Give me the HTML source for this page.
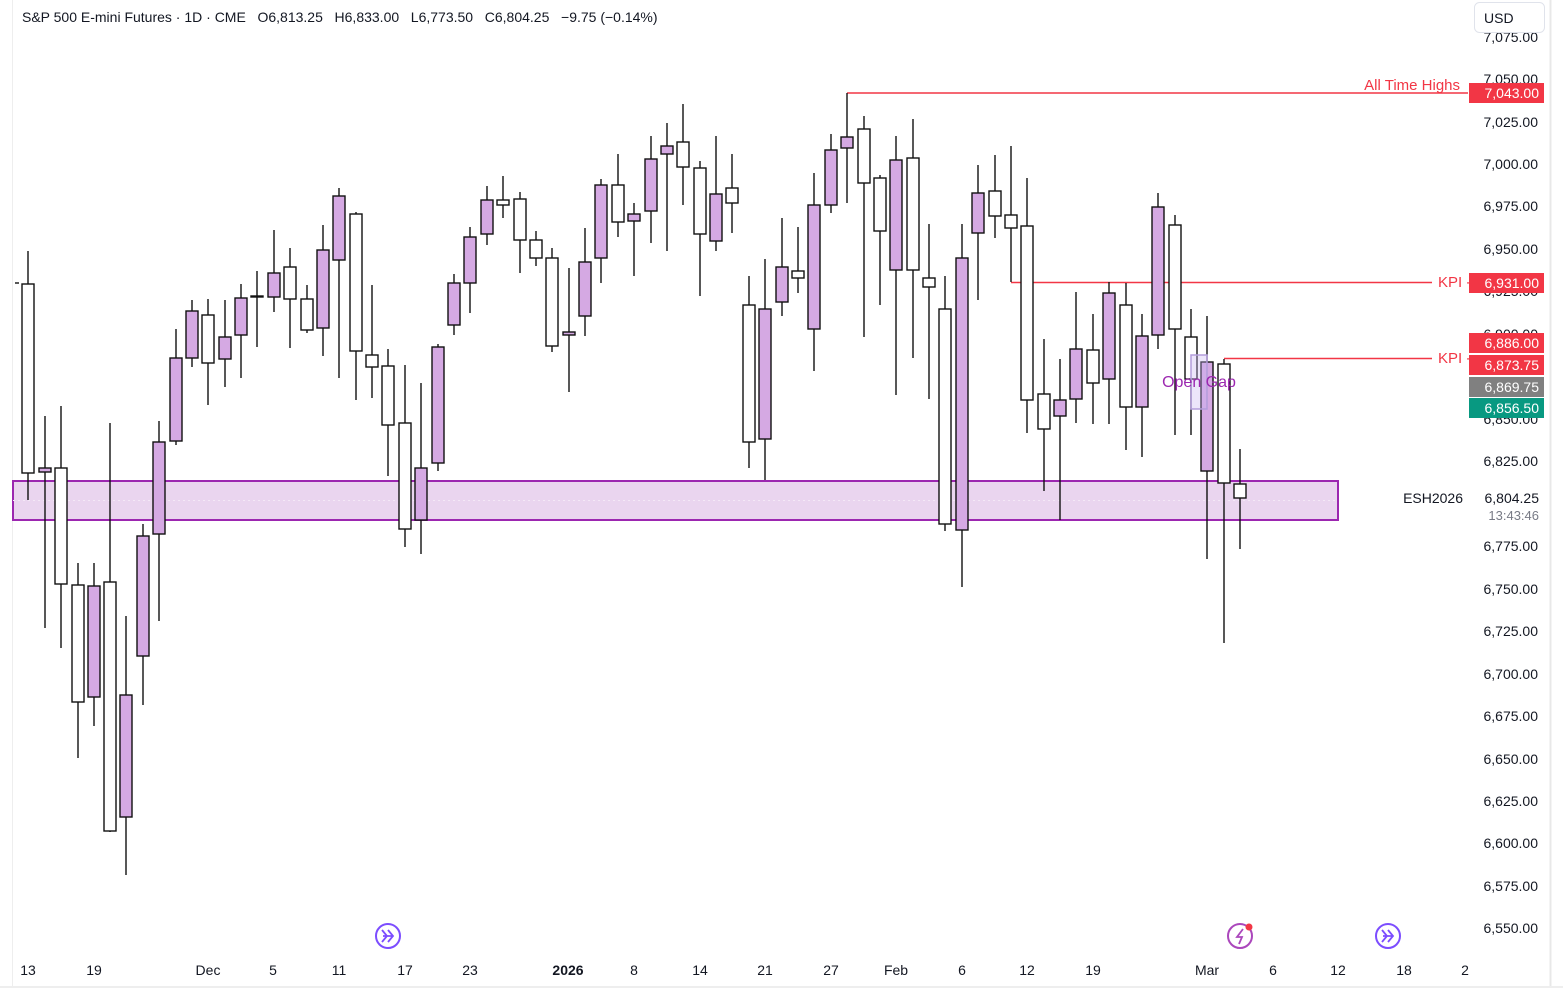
<!DOCTYPE html>
<html><head><meta charset="utf-8"><style>
body{margin:0;background:#fff;width:1563px;height:988px;overflow:hidden;font-family:"Liberation Sans",sans-serif}
svg{position:absolute;left:0;top:0}
</style></head><body>
<svg width="1563" height="988" viewBox="0 0 1563 988" xmlns="http://www.w3.org/2000/svg" font-family="Liberation Sans, sans-serif">
<rect x="0" y="0" width="1563" height="988" fill="#fff"/>
<line x1="12.5" y1="0" x2="12.5" y2="988" stroke="#eee"/>
<line x1="1550.5" y1="0" x2="1550.5" y2="988" stroke="#e8e8e8" stroke-width="2"/>
<line x1="0" y1="987" x2="1563" y2="987" stroke="#eee" stroke-width="2"/>
<rect x="13" y="481" width="1325" height="39" fill="#ead5ef" stroke="#9c27b0" stroke-width="2"/>
<line x1="13" y1="500.5" x2="1338" y2="500.5" stroke="#f4e8f6" stroke-dasharray="2,3"/>
<line x1="847" y1="93" x2="1468" y2="93" stroke="#f23645" stroke-width="1.5"/>
<line x1="1011" y1="282.5" x2="1432" y2="282.5" stroke="#f23645" stroke-width="1.5"/>
<line x1="1224" y1="358.5" x2="1432" y2="358.5" stroke="#f23645" stroke-width="1.5"/>
<text x="1460" y="90" text-anchor="end" font-size="15" fill="#f23645">All Time Highs</text>
<text x="1438" y="287" font-size="15" fill="#f23645">KPI -</text>
<text x="1438" y="363" font-size="15" fill="#f23645">KPI -</text>
<g stroke="#111" stroke-width="1.4">
<line x1="15" y1="283" x2="19" y2="283"/>
<line x1="28" y1="251" x2="28" y2="500"/><rect x="22" y="284" width="12" height="189" fill="#fff"/>
<line x1="45" y1="416" x2="45" y2="628"/><rect x="39" y="468" width="12" height="4" fill="#d5a9e3"/>
<line x1="61" y1="406" x2="61" y2="648"/><rect x="55" y="468" width="12" height="116" fill="#fff"/>
<line x1="78" y1="563" x2="78" y2="758"/><rect x="72" y="585" width="12" height="117" fill="#fff"/>
<line x1="94" y1="563" x2="94" y2="726"/><rect x="88" y="586" width="12" height="111" fill="#d5a9e3"/>
<line x1="110" y1="423" x2="110" y2="832"/><rect x="104" y="582" width="12" height="249" fill="#fff"/>
<line x1="126" y1="616" x2="126" y2="875"/><rect x="120" y="695" width="12" height="122" fill="#d5a9e3"/>
<line x1="143" y1="524" x2="143" y2="705"/><rect x="137" y="536" width="12" height="120" fill="#d5a9e3"/>
<line x1="159" y1="421" x2="159" y2="621"/><rect x="153" y="442" width="12" height="92" fill="#d5a9e3"/>
<line x1="176" y1="329" x2="176" y2="445"/><rect x="170" y="358" width="12" height="83" fill="#d5a9e3"/>
<line x1="192" y1="300" x2="192" y2="367"/><rect x="186" y="311" width="12" height="47" fill="#d5a9e3"/>
<line x1="208" y1="299" x2="208" y2="405"/><rect x="202" y="315" width="12" height="48" fill="#fff"/>
<line x1="225" y1="300" x2="225" y2="387"/><rect x="219" y="337" width="12" height="22" fill="#d5a9e3"/>
<line x1="241" y1="284" x2="241" y2="378"/><rect x="235" y="298" width="12" height="37" fill="#d5a9e3"/>
<line x1="257" y1="271" x2="257" y2="347"/><rect x="251" y="296" width="12" height="1" fill="#fff"/>
<line x1="274" y1="230" x2="274" y2="312"/><rect x="268" y="273" width="12" height="24" fill="#d5a9e3"/>
<line x1="290" y1="248" x2="290" y2="348"/><rect x="284" y="267" width="12" height="32" fill="#fff"/>
<line x1="307" y1="285" x2="307" y2="333"/><rect x="301" y="299" width="12" height="31" fill="#fff"/>
<line x1="323" y1="225" x2="323" y2="356"/><rect x="317" y="250" width="12" height="78" fill="#d5a9e3"/>
<line x1="339" y1="188" x2="339" y2="378"/><rect x="333" y="196" width="12" height="64" fill="#d5a9e3"/>
<line x1="356" y1="212" x2="356" y2="400"/><rect x="350" y="214" width="12" height="137" fill="#fff"/>
<line x1="372" y1="285" x2="372" y2="398"/><rect x="366" y="355" width="12" height="12" fill="#fff"/>
<line x1="388" y1="349" x2="388" y2="476"/><rect x="382" y="366" width="12" height="59" fill="#fff"/>
<line x1="405" y1="365" x2="405" y2="547"/><rect x="399" y="423" width="12" height="106" fill="#fff"/>
<line x1="421" y1="383" x2="421" y2="554"/><rect x="415" y="468" width="12" height="52" fill="#d5a9e3"/>
<line x1="438" y1="344" x2="438" y2="471"/><rect x="432" y="347" width="12" height="116" fill="#d5a9e3"/>
<line x1="454" y1="274" x2="454" y2="335"/><rect x="448" y="283" width="12" height="42" fill="#d5a9e3"/>
<line x1="470" y1="227" x2="470" y2="313"/><rect x="464" y="237" width="12" height="46" fill="#d5a9e3"/>
<line x1="487" y1="186" x2="487" y2="245"/><rect x="481" y="200" width="12" height="34" fill="#d5a9e3"/>
<line x1="503" y1="176" x2="503" y2="218"/><rect x="497" y="200" width="12" height="5" fill="#fff"/>
<line x1="520" y1="192" x2="520" y2="273"/><rect x="514" y="199" width="12" height="41" fill="#fff"/>
<line x1="536" y1="231" x2="536" y2="266"/><rect x="530" y="240" width="12" height="18" fill="#fff"/>
<line x1="552" y1="248" x2="552" y2="352"/><rect x="546" y="258" width="12" height="88" fill="#fff"/>
<line x1="569" y1="268" x2="569" y2="392"/><rect x="563" y="332" width="12" height="3" fill="#d5a9e3"/>
<line x1="585" y1="228" x2="585" y2="336"/><rect x="579" y="262" width="12" height="54" fill="#d5a9e3"/>
<line x1="601" y1="179" x2="601" y2="283"/><rect x="595" y="185" width="12" height="73" fill="#d5a9e3"/>
<line x1="618" y1="154" x2="618" y2="237"/><rect x="612" y="185" width="12" height="37" fill="#fff"/>
<line x1="634" y1="203" x2="634" y2="276"/><rect x="628" y="214" width="12" height="7" fill="#d5a9e3"/>
<line x1="651" y1="136" x2="651" y2="243"/><rect x="645" y="159" width="12" height="52" fill="#d5a9e3"/>
<line x1="667" y1="123" x2="667" y2="251"/><rect x="661" y="146" width="12" height="8" fill="#d5a9e3"/>
<line x1="683" y1="104" x2="683" y2="205"/><rect x="677" y="142" width="12" height="25" fill="#fff"/>
<line x1="700" y1="161" x2="700" y2="296"/><rect x="694" y="168" width="12" height="66" fill="#fff"/>
<line x1="716" y1="136" x2="716" y2="251"/><rect x="710" y="194" width="12" height="47" fill="#d5a9e3"/>
<line x1="732" y1="154" x2="732" y2="233"/><rect x="726" y="188" width="12" height="15" fill="#fff"/>
<line x1="749" y1="276" x2="749" y2="468"/><rect x="743" y="305" width="12" height="137" fill="#fff"/>
<line x1="765" y1="259" x2="765" y2="480"/><rect x="759" y="309" width="12" height="130" fill="#d5a9e3"/>
<line x1="782" y1="218" x2="782" y2="316"/><rect x="776" y="267" width="12" height="35" fill="#d5a9e3"/>
<line x1="798" y1="227" x2="798" y2="293"/><rect x="792" y="271" width="12" height="7" fill="#fff"/>
<line x1="814" y1="173" x2="814" y2="371"/><rect x="808" y="205" width="12" height="124" fill="#d5a9e3"/>
<line x1="831" y1="134" x2="831" y2="213"/><rect x="825" y="150" width="12" height="55" fill="#d5a9e3"/>
<line x1="847" y1="93" x2="847" y2="203"/><rect x="841" y="137" width="12" height="11" fill="#d5a9e3"/>
<line x1="864" y1="116" x2="864" y2="337"/><rect x="858" y="129" width="12" height="54" fill="#fff"/>
<line x1="880" y1="175" x2="880" y2="305"/><rect x="874" y="178" width="12" height="53" fill="#fff"/>
<line x1="896" y1="136" x2="896" y2="395"/><rect x="890" y="160" width="12" height="110" fill="#d5a9e3"/>
<line x1="913" y1="119" x2="913" y2="358"/><rect x="907" y="158" width="12" height="112" fill="#fff"/>
<line x1="929" y1="224" x2="929" y2="399"/><rect x="923" y="278" width="12" height="9" fill="#fff"/>
<line x1="945" y1="276" x2="945" y2="531"/><rect x="939" y="309" width="12" height="215" fill="#fff"/>
<line x1="962" y1="224" x2="962" y2="587"/><rect x="956" y="258" width="12" height="272" fill="#d5a9e3"/>
<line x1="978" y1="165" x2="978" y2="300"/><rect x="972" y="193" width="12" height="40" fill="#d5a9e3"/>
<line x1="995" y1="155" x2="995" y2="238"/><rect x="989" y="191" width="12" height="25" fill="#fff"/>
<line x1="1011" y1="146" x2="1011" y2="282"/><rect x="1005" y="215" width="12" height="13" fill="#fff"/>
<line x1="1027" y1="178" x2="1027" y2="433"/><rect x="1021" y="226" width="12" height="174" fill="#fff"/>
<line x1="1044" y1="339" x2="1044" y2="491"/><rect x="1038" y="394" width="12" height="35" fill="#fff"/>
<line x1="1060" y1="359" x2="1060" y2="520"/><rect x="1054" y="400" width="12" height="16" fill="#d5a9e3"/>
<line x1="1076" y1="292" x2="1076" y2="423"/><rect x="1070" y="349" width="12" height="50" fill="#d5a9e3"/>
<line x1="1093" y1="314" x2="1093" y2="424"/><rect x="1087" y="350" width="12" height="33" fill="#fff"/>
<line x1="1109" y1="282" x2="1109" y2="424"/><rect x="1103" y="293" width="12" height="86" fill="#d5a9e3"/>
<line x1="1126" y1="283" x2="1126" y2="450"/><rect x="1120" y="305" width="12" height="102" fill="#fff"/>
<line x1="1142" y1="314" x2="1142" y2="457"/><rect x="1136" y="336" width="12" height="71" fill="#d5a9e3"/>
<line x1="1158" y1="193" x2="1158" y2="349"/><rect x="1152" y="207" width="12" height="128" fill="#d5a9e3"/>
<line x1="1175" y1="215" x2="1175" y2="435"/><rect x="1169" y="225" width="12" height="104" fill="#fff"/>
<line x1="1191" y1="309" x2="1191" y2="435"/><rect x="1185" y="337" width="12" height="42" fill="#fff"/>
<line x1="1207" y1="316" x2="1207" y2="559"/><rect x="1201" y="362" width="12" height="109" fill="#d5a9e3"/>
<line x1="1224" y1="359" x2="1224" y2="643"/><rect x="1218" y="364" width="12" height="119" fill="#fff"/>
<line x1="1240" y1="449" x2="1240" y2="549"/><rect x="1234" y="484" width="12" height="14" fill="#fff"/>
</g>
<rect x="1191" y="355" width="16" height="54" fill="#c9b5f0" fill-opacity="0.35" stroke="#b39ddb" stroke-width="1.5"/>
<text x="1199" y="387" text-anchor="middle" font-size="16" fill="#9c27b0">Open Gap</text>
<text x="22" y="22" font-size="14" fill="#131722" xml:space="preserve" style="white-space:pre">S&amp;P 500 E-mini Futures · 1D · CME   O6,813.25   H6,833.00   L6,773.50   C6,804.25   −9.75 (−0.14%)</text>
<g font-size="14" fill="#131722" text-anchor="end">
<text x="1538" y="42">7,075.00</text>
<text x="1538" y="84">7,050.00</text>
<text x="1538" y="127">7,025.00</text>
<text x="1538" y="169">7,000.00</text>
<text x="1538" y="211">6,975.00</text>
<text x="1538" y="254">6,950.00</text>
<text x="1538" y="296">6,925.00</text>
<text x="1538" y="339">6,900.00</text>
<text x="1538" y="424">6,850.00</text>
<text x="1538" y="466">6,825.00</text>
<text x="1538" y="551">6,775.00</text>
<text x="1538" y="594">6,750.00</text>
<text x="1538" y="636">6,725.00</text>
<text x="1538" y="679">6,700.00</text>
<text x="1538" y="721">6,675.00</text>
<text x="1538" y="764">6,650.00</text>
<text x="1538" y="806">6,625.00</text>
<text x="1538" y="848">6,600.00</text>
<text x="1538" y="891">6,575.00</text>
<text x="1538" y="933">6,550.00</text>
</g>
<rect x="1474.5" y="2.5" width="70" height="30" rx="5" fill="#fff" stroke="#e0e3eb"/>
<text x="1484" y="23" font-size="14" fill="#131722">USD</text>
<rect x="1469" y="83" width="75" height="20" fill="#f23645"/>
<rect x="1469" y="273" width="75" height="20" fill="#f23645"/>
<rect x="1469" y="333" width="75" height="20" fill="#f23645"/>
<rect x="1469" y="355" width="75" height="20" fill="#f23645"/>
<rect x="1469" y="377" width="75" height="20" fill="#808080"/>
<rect x="1469" y="398" width="75" height="20" fill="#089981"/>
<g font-size="14" fill="#fff" text-anchor="end">
<text x="1539" y="98">7,043.00</text>
<text x="1539" y="288">6,931.00</text>
<text x="1539" y="348">6,886.00</text>
<text x="1539" y="370">6,873.75</text>
<text x="1539" y="392">6,869.75</text>
<text x="1539" y="413">6,856.50</text>
</g>
<text x="1463" y="503" text-anchor="end" font-size="14" fill="#131722">ESH2026</text>
<text x="1539" y="503" text-anchor="end" font-size="14" fill="#131722">6,804.25</text>
<text x="1539" y="520" text-anchor="end" font-size="13" fill="#787b86">13:43:46</text>
<g font-size="14" fill="#131722" text-anchor="middle">
<text x="28" y="975">13</text><text x="94" y="975">19</text><text x="208" y="975">Dec</text>
<text x="273" y="975">5</text><text x="339" y="975">11</text><text x="405" y="975">17</text>
<text x="470" y="975">23</text><text x="568" y="975" font-weight="bold">2026</text>
<text x="634" y="975">8</text><text x="700" y="975">14</text><text x="765" y="975">21</text>
<text x="831" y="975">27</text><text x="896" y="975">Feb</text><text x="962" y="975">6</text>
<text x="1027" y="975">12</text><text x="1093" y="975">19</text><text x="1207" y="975">Mar</text>
<text x="1273" y="975">6</text><text x="1338" y="975">12</text><text x="1404" y="975">18</text>
<text x="1465" y="975">2</text>
</g>
<g fill="none" stroke-width="2">
<circle cx="388" cy="936" r="12" stroke="#7c4dff"/>
<path d="M382 930 l5 6 -5 6 M388 930 l5 6 -5 6 M383 936 h10" stroke="#7c4dff" stroke-width="1.8"/>
<circle cx="1388" cy="936" r="12" stroke="#7c4dff"/>
<path d="M1382 930 l5 6 -5 6 M1388 930 l5 6 -5 6 M1383 936 h10" stroke="#7c4dff" stroke-width="1.8"/>
<circle cx="1240" cy="936" r="12" stroke="#ab47bc"/>
<path d="M1243 929 l-6 8 h5 l-3 7" stroke="#ab47bc" stroke-width="1.8"/>
</g>
<circle cx="1249" cy="927" r="3.5" fill="#f23645"/>
</svg>
</body></html>
